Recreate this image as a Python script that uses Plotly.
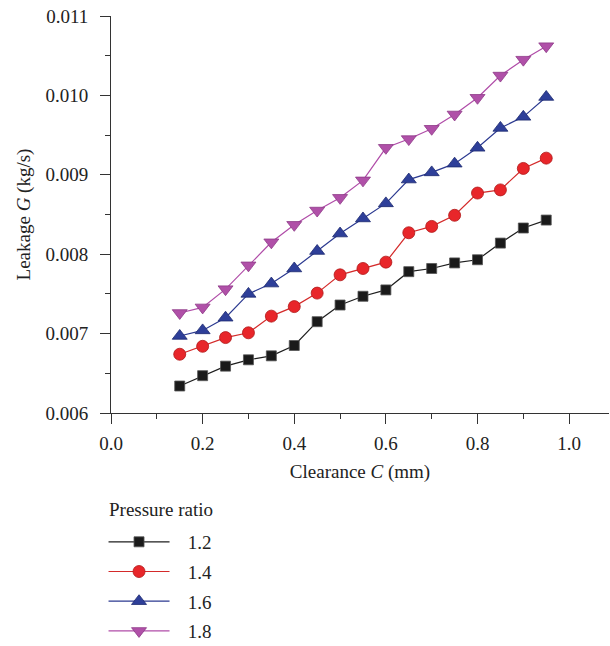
import plotly.graph_objects as go

clearance = [0.15, 0.20, 0.25, 0.30, 0.35, 0.40, 0.45, 0.50, 0.55, 0.60,
             0.65, 0.70, 0.75, 0.80, 0.85, 0.90, 0.95]
g_12 = [0.00634, 0.00647, 0.00659, 0.00667, 0.00672, 0.00685, 0.00715, 0.00736, 0.00747,
        0.00755, 0.00778, 0.00782, 0.00789, 0.00793, 0.00814, 0.00833, 0.00843]
g_14 = [0.00674, 0.00684, 0.00695, 0.00701, 0.00722, 0.00734, 0.00751, 0.00774, 0.00782,
        0.00790, 0.00827, 0.00835, 0.00849, 0.00877, 0.00881, 0.00908, 0.00921]
g_16 = [0.00697, 0.00704, 0.00720, 0.00750, 0.00763, 0.00782, 0.00804, 0.00826, 0.00845,
        0.00864, 0.00894, 0.00903, 0.00914, 0.00934, 0.00959, 0.00973, 0.00998]
g_18 = [0.00726, 0.00733, 0.00756, 0.00786, 0.00815, 0.00837, 0.00855, 0.00871, 0.00893,
        0.00934, 0.00945, 0.00958, 0.00976, 0.00997, 0.01025, 0.01045, 0.01062]
series_names = ["1.2", "1.4", "1.6", "1.8"]
legend_title = "Pressure ratio"
y_ticks = [0.006, 0.007, 0.008, 0.009, 0.010, 0.011]
y_tick_labels = ["0.006", "0.007", "0.008", "0.009", "0.010", "0.011"]

FONT = "Liberation Serif"
FS = 19
styles = [
    dict(line="#1e1e1e", fill="#1a1a1a", edge="#555555", symbol="square", size=10),
    dict(line="#d42a2a", fill="#e8262a", edge="#b01818", symbol="circle", size=12),
    dict(line="#2b3990", fill="#2e3f99", edge="#1d2a70", symbol="triangle-up", size=13),
    dict(line="#b04ca8", fill="#b050a8", edge="#8e3a88", symbol="triangle-down", size=13),
]

fig = go.Figure()
for i, (name, ys) in enumerate(zip(series_names, [g_12, g_14, g_16, g_18])):
    s = styles[i]
    fig.add_trace(go.Scatter(
        x=clearance, y=ys, name="\u2002\u2009" + name, mode="lines+markers",
        legendgroup=name,
        line=dict(color=s["line"], width=1.2),
        marker=dict(symbol=s["symbol"], size=s["size"], color=s["fill"],
                    line=dict(color=s["edge"], width=0.8)),
    ))

fig.update_layout(
    width=610, height=646,
    margin=dict(l=111, r=1, t=16, b=233, autoexpand=False),
    paper_bgcolor="white", plot_bgcolor="white",
    font=dict(family=FONT, size=FS, color="#222222"),
    showlegend=True,
    legend=dict(
        x=-0.015, xanchor="left", y=-0.277, yanchor="top",
        itemwidth=61, tracegroupgap=2,
        font=dict(family=FONT, size=FS),
        bgcolor="rgba(0,0,0,0)",
    ),
    annotations=[dict(
        text=legend_title, xref="paper", yref="paper",
        x=-0.008, xanchor="left", y=-0.2443, yanchor="middle",
        showarrow=False, font=dict(family=FONT, size=FS),
    )],
)
fig.update_xaxes(
    range=[0, 1.087], dtick=0.2, tick0=0, tickformat=".1f",
    showline=True, linecolor="#333333", linewidth=1,
    ticks="outside", ticklen=10, tickcolor="#333333", tickwidth=1,
    ticklabelstandoff=3,
    minor=dict(dtick=0.1, ticks="outside", ticklen=5, tickcolor="#333333", showgrid=False),
    showgrid=False, zeroline=False, automargin=False,
    title=dict(text="Clearance <i>C</i> (mm)", font=dict(family=FONT, size=FS), standoff=11),
    tickfont=dict(family=FONT, size=FS),
)
fig.update_yaxes(
    range=[0.006, 0.011], tickvals=y_ticks, ticktext=y_tick_labels,
    showline=True, linecolor="#333333", linewidth=1,
    ticks="outside", ticklen=10, tickcolor="#333333", tickwidth=1,
    ticklabelstandoff=8,
    minor=dict(dtick=0.0005, tick0=0.006, ticks="outside", ticklen=5, tickcolor="#333333", showgrid=False),
    showgrid=False, zeroline=False, automargin=False,
    title=dict(text="Leakage <i>G</i> (kg/s)", font=dict(family=FONT, size=FS), standoff=9),
    tickfont=dict(family=FONT, size=FS),
)

fig.write_html(
    "out.html",
    config={"displayModeBar": False},
    post_script="document.body.style.margin='0';document.body.style.overflow='hidden';",
)
